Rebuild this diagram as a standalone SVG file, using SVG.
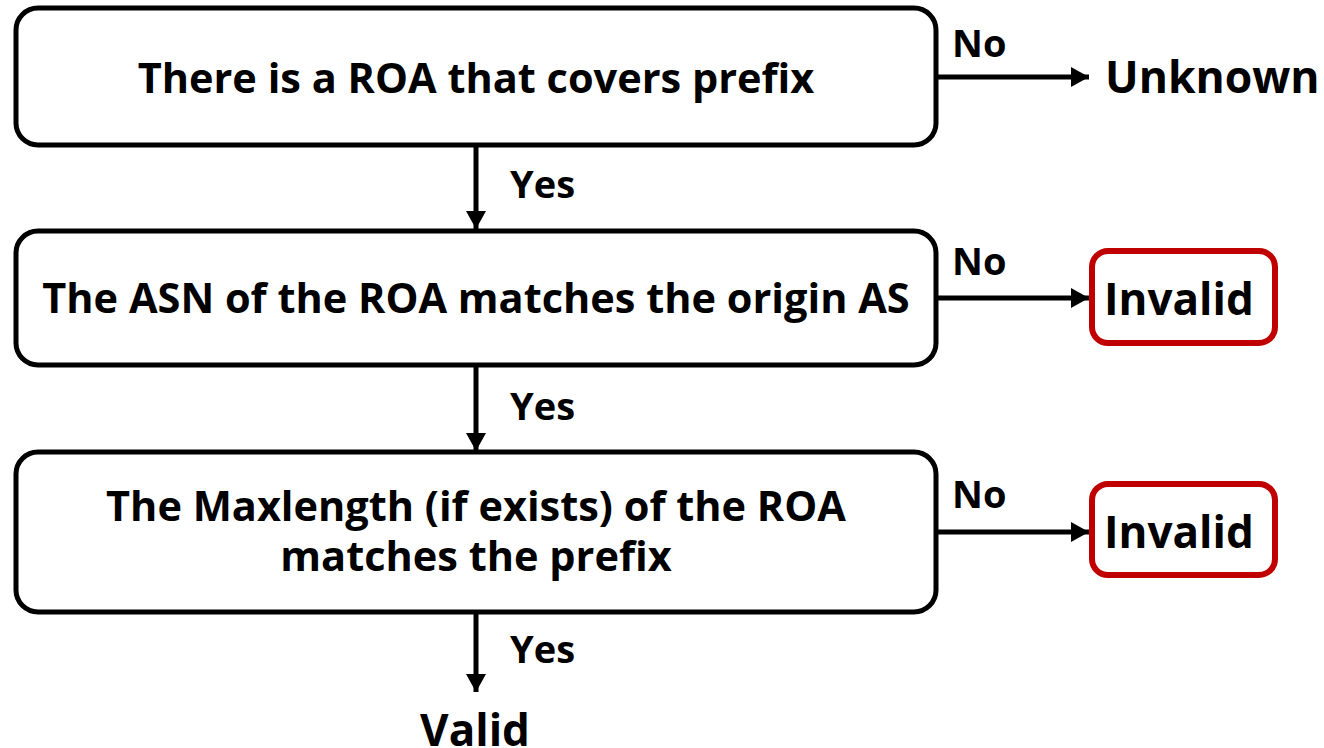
<svg xmlns="http://www.w3.org/2000/svg" width="1324" height="748" viewBox="0 0 1324 748">
<defs>
<style>
.box{fill:#fff;stroke:#000;stroke-width:5}
.red{fill:#fff;stroke:#C00000;stroke-width:6}
.t{font-family:"Open Sans","Noto Sans",sans-serif;font-weight:bold;fill:#000}
.m{font-size:41.5px;text-anchor:middle}
.s{font-size:38px}
.e{stroke:#000;stroke-width:5;fill:none}
</style>
<marker id="a" viewBox="0 0 10 10" refX="10" refY="5" markerWidth="18" markerHeight="20" markerUnits="userSpaceOnUse" orient="auto" preserveAspectRatio="none">
<path d="M0,0 L10,5 L0,10 z" fill="#000"/>
</marker>
</defs>
<g id="connectors">
<line class="e" x1="476" y1="146" x2="476" y2="229" marker-end="url(#a)"/>
<line class="e" x1="476" y1="366" x2="476" y2="451" marker-end="url(#a)"/>
<line class="e" x1="476" y1="613" x2="476" y2="692" marker-end="url(#a)"/>
<line class="e" x1="937" y1="77" x2="1089" y2="77" marker-end="url(#a)"/>
<line class="e" x1="937" y1="298" x2="1089" y2="298" marker-end="url(#a)"/>
<line class="e" x1="937" y1="532" x2="1089" y2="532" marker-end="url(#a)"/>
<text class="t s" x="952" y="57">No</text>
<text class="t s" x="952" y="275">No</text>
<text class="t s" x="952" y="508">No</text>
<text class="t s" x="510" y="198">Yes</text>
<text class="t s" x="510" y="420">Yes</text>
<text class="t s" x="510" y="663">Yes</text>
</g>
<g id="n1">
<rect class="box" x="16" y="8" width="920" height="137" rx="22"/>
<text class="t m" x="476" y="93">There is a ROA that covers prefix</text>
</g>
<g id="n2">
<rect class="box" x="16" y="231" width="920" height="134" rx="22"/>
<text class="t m" x="476" y="313">The ASN of the ROA matches the origin AS</text>
</g>
<g id="n3">
<rect class="box" x="16" y="452" width="920" height="160" rx="22"/>
<text class="t m" x="476" y="521">The Maxlength (if exists) of the ROA</text>
<text class="t m" x="476" y="571">matches the prefix</text>
</g>
<g id="unknown">
<text class="t" x="1105" y="93" font-size="44.5">Unknown</text>
</g>
<g id="invalid1">
<rect class="red" x="1092" y="251" width="183" height="92" rx="16"/>
<text class="t" x="1104" y="315" font-size="44">Invalid</text>
</g>
<g id="invalid2">
<rect class="red" x="1092" y="484" width="183" height="91" rx="16"/>
<text class="t" x="1104" y="548" font-size="44">Invalid</text>
</g>
<g id="valid">
<text class="t" x="475" y="746" font-size="44" text-anchor="middle">Valid</text>
</g>
</svg>
